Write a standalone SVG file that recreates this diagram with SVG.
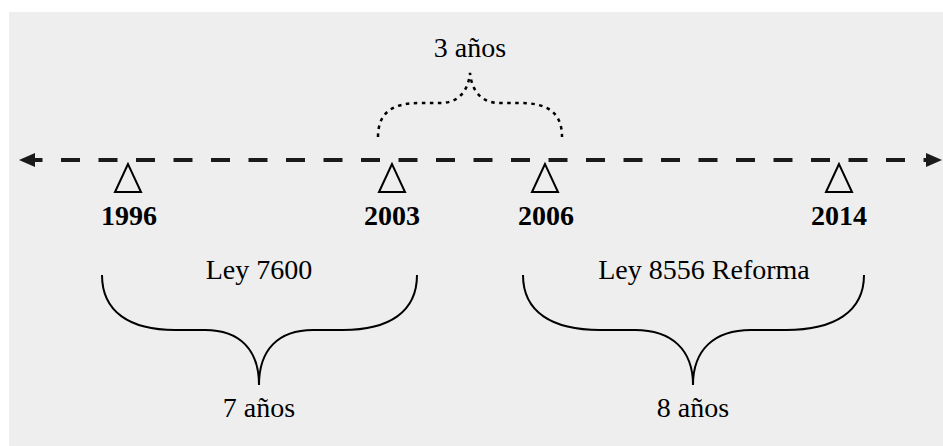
<svg xmlns="http://www.w3.org/2000/svg" width="943" height="446" viewBox="0 0 943 446">
<style>
.lbl{font-family:"Liberation Serif","Times New Roman",serif;font-size:28px;fill:#000;text-anchor:middle}
.yr{font-weight:bold}
.tri{fill:none;stroke:#000;stroke-width:2}
.brace{fill:none;stroke:#000;stroke-width:2}
.dot{fill:none;stroke:#000;stroke-width:2.5;stroke-dasharray:3.5 4.5}
.axis{fill:none;stroke:#1a1a1a;stroke-width:4;stroke-dasharray:19 18.5}
.head{fill:#1a1a1a}
</style>
<rect x="9" y="12" width="934" height="434" fill="#EEEEEE"/>
<g id="connectors">
<path class="axis" d="M23.5,160 L930,160"/>
<polygon class="head" points="19,160 35,153 35,167"/>
<polygon class="head" points="942,160 926,153 926,167"/>
<path class="dot" d="M378,137 C378,112 393,103 420,103 L440,103 C458,103 468,92 470,73 C472,92 482,103 500,103 L520,103 C547,103 562,112 562,137"/>
<path class="brace" d="M102,275 C102,312 130,330 175,330 L205,330 C240,330 259,350 259,385 C259,350 278,330 313,330 L343,330 C389,330 417,312 417,275"/>
<path class="brace" d="M523,275 C523,312 552,330 600,330 L635,330 C672,330 693,350 693,385 C693,350 714,330 751,330 L786,330 C834,330 864,312 864,275"/>
</g>
<g id="y1996"><polygon class="tri" points="128,164 115,192 141,192"/><text class="lbl yr" x="129" y="225">1996</text></g>
<g id="y2003"><polygon class="tri" points="392,164 379,192 405,192"/><text class="lbl yr" x="392" y="225">2003</text></g>
<g id="y2006"><polygon class="tri" points="545,164 532,192 558,192"/><text class="lbl yr" x="546" y="225">2006</text></g>
<g id="y2014"><polygon class="tri" points="839,164 826,192 852,192"/><text class="lbl yr" x="839" y="225">2014</text></g>
<g id="span3"><text class="lbl" x="470" y="57">3 años</text></g>
<g id="ley7600"><text class="lbl" x="259" y="279">Ley 7600</text><text class="lbl" x="259" y="417">7 años</text></g>
<g id="ley8556"><text class="lbl" x="704" y="279">Ley 8556 Reforma</text><text class="lbl" x="693" y="417">8 años</text></g>
</svg>
